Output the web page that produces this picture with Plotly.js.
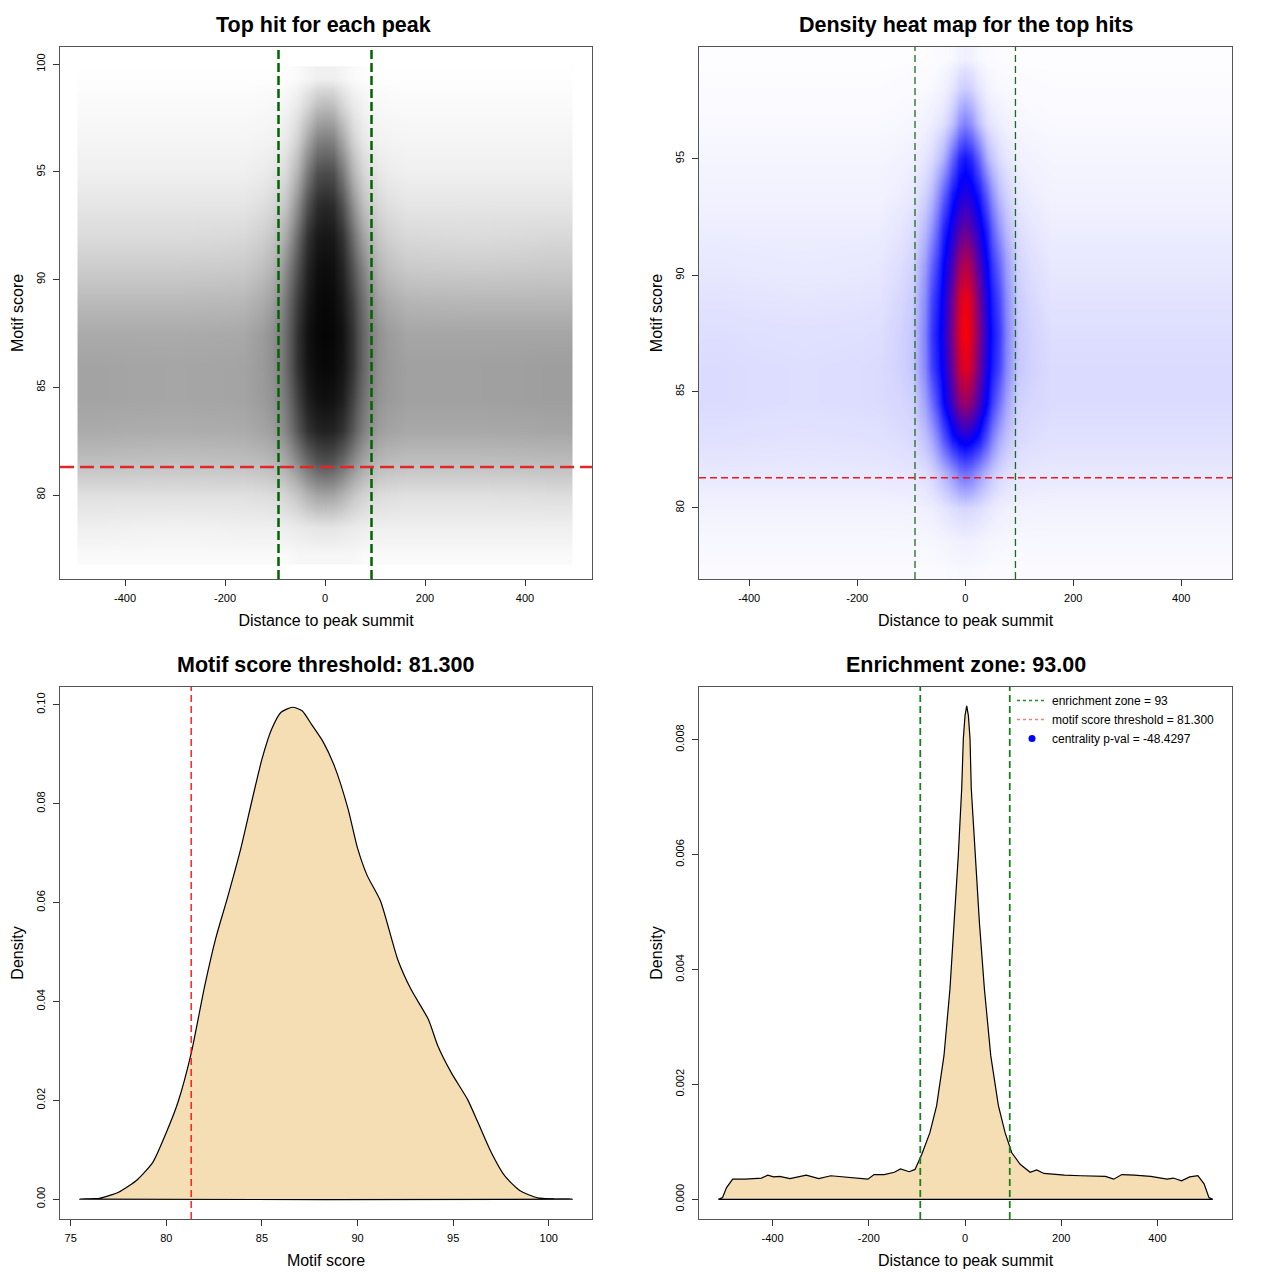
<!DOCTYPE html>
<html><head><meta charset="utf-8">
<script src="https://cdn.plot.ly/plotly-3.0.1.min.js"></script>
<style>html,body{margin:0;padding:0;background:#fff}</style>
</head><body><div id="chart" style="width:1280px;height:1280px"></div>
<script>
// ---------- values ----------
const enrichmentZone = 93;
const scoreThreshold = 81.3;
const centralityPval = -48.4297;

const distTicks = [-400, -200, 0, 200, 400];
const distTickLabels = ['-400', '-200', '0', '200', '400'];
const scoreTicksTop = [80, 85, 90, 95, 100];
const scoreTicksHeat = [80, 85, 90, 95];
const scoreTicksBottom = [75, 80, 85, 90, 95, 100];
const densTicksScore = [0, 0.02, 0.04, 0.06, 0.08, 0.10];
const densTicksDist = [0, 0.002, 0.004, 0.006, 0.008];

// Top-left: point density (share of ink) of the top-hit scatter, estimated per cell
const hitXEdges = [-495,-400,-200,-125,-88,-65,-45,-25,-8,8,25,45,65,88,125,200,400,495];
const hitYEdges = [76.8,77.75,79.25,80.75,82.25,83.75,85.25,86.75,88.25,89.75,91.25,92.75,94.25,95.75,97.25,98.75,99.9];
const hitInk = [
 [0.02,0.02,0.02,0.02,0.02,0.03,0.03,0.03,0.03,0.03,0.03,0.03,0.02,0.02,0.02,0.02,0.02],
 [0.06,0.05,0.06,0.06,0.07,0.08,0.09,0.10,0.10,0.10,0.09,0.08,0.07,0.06,0.06,0.06,0.06],
 [0.12,0.12,0.12,0.14,0.18,0.23,0.30,0.35,0.36,0.35,0.30,0.23,0.18,0.14,0.12,0.12,0.13],
 [0.25,0.24,0.25,0.28,0.35,0.46,0.58,0.66,0.68,0.66,0.58,0.46,0.35,0.28,0.25,0.25,0.26],
 [0.33,0.32,0.33,0.38,0.50,0.66,0.80,0.86,0.87,0.86,0.80,0.66,0.50,0.38,0.34,0.34,0.35],
 [0.36,0.35,0.36,0.42,0.56,0.74,0.88,0.93,0.94,0.93,0.88,0.74,0.56,0.42,0.37,0.37,0.38],
 [0.36,0.35,0.36,0.43,0.60,0.80,0.92,0.96,0.97,0.96,0.92,0.80,0.60,0.43,0.37,0.37,0.38],
 [0.33,0.33,0.34,0.43,0.60,0.80,0.93,0.97,0.98,0.97,0.93,0.80,0.60,0.43,0.35,0.35,0.35],
 [0.27,0.27,0.28,0.37,0.56,0.76,0.90,0.96,0.97,0.96,0.90,0.76,0.56,0.37,0.29,0.28,0.28],
 [0.20,0.20,0.21,0.29,0.48,0.68,0.86,0.94,0.95,0.94,0.86,0.68,0.48,0.29,0.21,0.20,0.21],
 [0.14,0.14,0.15,0.22,0.36,0.58,0.80,0.90,0.91,0.90,0.80,0.58,0.36,0.22,0.15,0.14,0.15],
 [0.10,0.10,0.10,0.15,0.25,0.44,0.68,0.82,0.84,0.82,0.68,0.44,0.25,0.15,0.10,0.10,0.10],
 [0.06,0.06,0.06,0.09,0.16,0.30,0.52,0.68,0.70,0.68,0.52,0.30,0.16,0.09,0.06,0.06,0.06],
 [0.04,0.04,0.04,0.05,0.09,0.18,0.34,0.48,0.50,0.48,0.34,0.18,0.09,0.05,0.04,0.04,0.04],
 [0.02,0.02,0.02,0.03,0.05,0.09,0.17,0.26,0.28,0.26,0.17,0.09,0.05,0.03,0.02,0.02,0.02],
 [0.005,0.005,0.005,0.005,0.01,0.02,0.04,0.06,0.06,0.06,0.04,0.02,0.01,0.005,0.005,0.005,0.005]
];

// Top-right: 2D density of the top hits (0 = white, 0.5 = blue, 1 = red)
const heatXEdges = [-493,-400,-200,-120,-75,-50,-32,-18,-6,6,18,32,50,75,120,200,400,494];
const heatYEdges = [76.95,77.75,79.25,80.75,82.25,83.75,85.25,86.75,88.25,89.75,91.25,92.75,94.25,95.75,97.25,98.75,99.8];
const heatDensity = [
 [0.008,0.008,0.008,0.008,0.008,0.01,0.012,0.013,0.014,0.013,0.012,0.01,0.008,0.008,0.008,0.008,0.008],
 [0.015,0.015,0.015,0.015,0.017,0.02,0.024,0.027,0.028,0.027,0.024,0.02,0.017,0.015,0.015,0.015,0.015],
 [0.025,0.025,0.025,0.027,0.035,0.05,0.065,0.075,0.08,0.075,0.065,0.05,0.035,0.027,0.025,0.025,0.025],
 [0.045,0.045,0.045,0.05,0.08,0.14,0.20,0.26,0.28,0.26,0.20,0.14,0.08,0.05,0.045,0.045,0.045],
 [0.06,0.055,0.06,0.075,0.17,0.33,0.46,0.52,0.55,0.52,0.46,0.33,0.17,0.075,0.06,0.06,0.06],
 [0.07,0.065,0.07,0.09,0.28,0.48,0.63,0.76,0.80,0.76,0.63,0.48,0.28,0.09,0.07,0.07,0.07],
 [0.07,0.065,0.07,0.11,0.37,0.53,0.71,0.88,0.95,0.88,0.71,0.53,0.37,0.11,0.07,0.07,0.07],
 [0.065,0.06,0.065,0.11,0.39,0.55,0.75,0.92,1.00,0.92,0.75,0.55,0.39,0.11,0.065,0.065,0.065],
 [0.055,0.05,0.055,0.10,0.36,0.53,0.72,0.90,0.97,0.90,0.72,0.53,0.36,0.10,0.055,0.055,0.055],
 [0.045,0.04,0.045,0.085,0.30,0.49,0.64,0.80,0.85,0.80,0.64,0.49,0.30,0.085,0.045,0.045,0.045],
 [0.035,0.035,0.035,0.065,0.21,0.42,0.55,0.65,0.70,0.65,0.55,0.42,0.21,0.065,0.035,0.035,0.035],
 [0.025,0.025,0.025,0.045,0.13,0.30,0.45,0.53,0.56,0.53,0.45,0.30,0.13,0.045,0.025,0.025,0.025],
 [0.02,0.02,0.02,0.03,0.07,0.15,0.30,0.42,0.46,0.42,0.30,0.15,0.07,0.03,0.02,0.02,0.02],
 [0.012,0.012,0.012,0.018,0.035,0.06,0.12,0.21,0.25,0.21,0.12,0.06,0.035,0.018,0.012,0.012,0.012],
 [0.007,0.007,0.007,0.01,0.015,0.025,0.05,0.085,0.10,0.085,0.05,0.025,0.015,0.01,0.007,0.007,0.007],
 [0.003,0.003,0.003,0.004,0.006,0.01,0.015,0.025,0.03,0.025,0.015,0.01,0.006,0.004,0.003,0.003,0.003]
];

// Bottom-left: density of motif scores
const scoreX = [75.47,76.5,77.5,78.5,79.3,80,80.6,81.3,82,82.6,83.2,83.9,84.5,85,85.5,86,86.6,87.1,87.6,88.2,88.8,89.5,90,90.5,91.2,92.1,92.8,93.7,94.2,94.9,95.75,96.3,97,97.7,98.5,99.4,100.3,101.23];
const scoreDensity = [0,0.0002,0.0014,0.004,0.0075,0.0135,0.0195,0.0295,0.043,0.053,0.061,0.071,0.081,0.089,0.095,0.0985,0.0995,0.0988,0.096,0.0925,0.0875,0.079,0.071,0.0655,0.0603,0.0485,0.0424,0.0364,0.031,0.0256,0.0202,0.0155,0.0094,0.0047,0.0017,0.0003,0.00005,0];

// Bottom-right: density of distances to peak summit
const distX = [-512.8,-504,-496,-483,-457,-423,-410,-398,-385,-364,-330,-304,-279,-253,-227,-202,-189,-168,-147,-134,-116,-104,-90,-73,-59,-43.75,-31.3,-22.2,-14,-6.9,-3.5,0,3.5,7,10.4,13,20.8,29.9,40.3,53.5,69.4,83.3,97.2,114.6,135.4,149,164,207,241,292,309,326,352,386,420,433,450,467,484,497,507,515];
const distDensity = [0,0.00003,0.0002,0.00035,0.00035,0.00037,0.00042,0.00039,0.0004,0.00036,0.00042,0.00036,0.00041,0.00039,0.00037,0.00035,0.00043,0.00043,0.00047,0.00053,0.00048,0.00052,0.00078,0.00116,0.00163,0.0025,0.00366,0.00482,0.00598,0.00715,0.00802,0.00842,0.00859,0.00842,0.00802,0.00715,0.00598,0.00482,0.00366,0.0025,0.00163,0.00116,0.00081,0.00061,0.00047,0.00051,0.00045,0.00042,0.00041,0.0004,0.00035,0.00043,0.00042,0.0004,0.00035,0.00037,0.00032,0.00039,0.00041,0.00027,0.00003,0];

// ---------- drawing ----------
const FONT = 'Liberation Sans, Arial, Helvetica, sans-serif';
const W = 1280, H = 1280;
const px = v => v / W;
const py = v => 1 - v / H;

const traces = [
  {type:'heatmap', x:hitXEdges, y:hitYEdges, z:hitInk, zmin:0, zmax:1, zsmooth:'best',
   colorscale:[[0,'#ffffff'],[1,'#000000']], showscale:false, hoverinfo:'skip', xaxis:'x', yaxis:'y'},
  {type:'heatmap', x:heatXEdges, y:heatYEdges, z:heatDensity, zmin:0, zmax:1, zsmooth:'best',
   colorscale:[[0,'#ffffff'],[0.5,'#0000ff'],[1,'#ff0000']], showscale:false, hoverinfo:'skip', xaxis:'x2', yaxis:'y2'},
  {type:'scatter', mode:'lines', x:scoreX.concat([scoreX[0]]), y:scoreDensity.concat([scoreDensity[0]]),
   fill:'toself', fillcolor:'#f5deb3', line:{color:'#000', width:1.2, shape:'spline', smoothing:0.6},
   showlegend:false, hoverinfo:'skip', xaxis:'x3', yaxis:'y3'},
  {type:'scatter', mode:'lines', x:distX.concat([distX[0]]), y:distDensity.concat([distDensity[0]]),
   fill:'toself', fillcolor:'#f5deb3', line:{color:'#000', width:1.2},
   showlegend:false, hoverinfo:'skip', xaxis:'x4', yaxis:'y4'},
  {type:'scatter', mode:'lines', x:[null], y:[null], name:'enrichment zone = ' + enrichmentZone,
   line:{color:'#228b22', width:1.3, dash:'dot'}, xaxis:'x4', yaxis:'y4'},
  {type:'scatter', mode:'lines', x:[null], y:[null], name:'motif score threshold = ' + scoreThreshold.toFixed(3),
   line:{color:'#f08080', width:1.3, dash:'dot'}, xaxis:'x4', yaxis:'y4'},
  {type:'scatter', mode:'markers', x:[null], y:[null], name:'centrality p-val = ' + centralityPval,
   marker:{color:'#0000ff', size:7}, xaxis:'x4', yaxis:'y4'}
];

function axisBase(extra) {
  return Object.assign({
    showline:true, mirror:true, linecolor:'#555', linewidth:1,
    ticks:'outside', ticklen:6, tickcolor:'#333', tickwidth:1,
    showgrid:false, zeroline:false, fixedrange:true,
    tickfont:{family:FONT, size:11, color:'#000'}
  }, extra);
}
const xTitle = t => ({text:t, font:{family:FONT, size:16, color:'#000'}, standoff:11});
const yTitle = t => ({text:t, font:{family:FONT, size:16, color:'#000'}, standoff:6});

const dTop = [py(579), py(47)], dBot = [py(1219), py(687)];
const dLeft = [px(60), px(592)], dRight = [px(699), px(1232)];

const layout = {
  width:W, height:H, margin:{l:0, r:0, t:0, b:0},
  paper_bgcolor:'#fff', plot_bgcolor:'#fff',
  font:{family:FONT, color:'#000'},
  xaxis: axisBase({domain:dLeft, anchor:'y', range:[-530,534], tickvals:distTicks, ticktext:distTickLabels, ticklabelstandoff:3, title:xTitle('Distance to peak summit')}),
  yaxis: axisBase({domain:dTop, anchor:'x', range:[76.1,100.8], tickvals:scoreTicksTop, tickangle:-90, ticklabelstandoff:4, title:yTitle('Motif score')}),
  xaxis2: axisBase({domain:dRight, anchor:'y2', range:[-493,494], tickvals:distTicks, ticktext:distTickLabels, ticklabelstandoff:3, title:xTitle('Distance to peak summit')}),
  yaxis2: axisBase({domain:dTop, anchor:'x2', range:[76.95,99.8], tickvals:scoreTicksHeat, tickangle:-90, ticklabelstandoff:4, title:yTitle('Motif score')}),
  xaxis3: axisBase({domain:dLeft, anchor:'y3', range:[74.44,102.26], tickvals:scoreTicksBottom, ticklabelstandoff:3, title:xTitle('Motif score')}),
  yaxis3: axisBase({domain:dBot, anchor:'x3', range:[-0.004,0.1036], tickvals:densTicksScore, tickformat:'.2f', tickangle:-90, ticklabelstandoff:4, title:yTitle('Density')}),
  xaxis4: axisBase({domain:dRight, anchor:'y4', range:[-553,555], tickvals:distTicks, ticktext:distTickLabels, ticklabelstandoff:3, title:xTitle('Distance to peak summit')}),
  yaxis4: axisBase({domain:dBot, anchor:'x4', range:[-0.000343,0.008918], tickvals:densTicksDist, tickformat:'.3f', tickangle:-90, ticklabelstandoff:4, title:yTitle('Density')}),
  showlegend:true,
  legend:{x:px(1012), y:py(686), xanchor:'left', yanchor:'top', bgcolor:'rgba(0,0,0,0)', borderwidth:0,
          font:{family:FONT, size:12, color:'#000'}, tracegroupgap:0, itemwidth:30},
  shapes:[],
  annotations:[]
};

const titles = [
  ['Top hit for each peak', 323, 25],
  ['Density heat map for the top hits', 966, 25],
  ['Motif score threshold: ' + scoreThreshold.toFixed(3), 326, 665],
  ['Enrichment zone: ' + enrichmentZone.toFixed(2), 966, 665]
];
titles.forEach(([t, x, y]) => layout.annotations.push({
  text:t, xref:'paper', yref:'paper', x:px(x), y:py(y), xanchor:'center', yanchor:'middle',
  showarrow:false, font:{family:FONT, size:21.5, color:'#000', weight:'bold'}
}));

function vline(ax, val, color, width, dash) {
  layout.shapes.push({type:'line', xref:ax.x, yref:ax.y + ' domain', x0:val, x1:val, y0:0, y1:1,
    line:{color:color, width:width, dash:dash}});
}
function hline(ax, val, color, width, dash) {
  layout.shapes.push({type:'line', xref:ax.x + ' domain', yref:ax.y, x0:0, x1:1, y0:val, y1:val,
    line:{color:color, width:width, dash:dash}});
}
const A1 = {x:'x', y:'y'}, A2 = {x:'x2', y:'y2'}, A3 = {x:'x3', y:'y3'}, A4 = {x:'x4', y:'y4'};
vline(A1, -enrichmentZone, '#006400', 2.5, '9px,4px');
vline(A1, enrichmentZone, '#006400', 2.5, '9px,4px');
hline(A1, scoreThreshold, '#e0282a', 2.5, '14px,6px');
vline(A2, -enrichmentZone, '#1a6e1a', 1.3, '7px,4px');
vline(A2, enrichmentZone, '#1a6e1a', 1.3, '7px,4px');
hline(A2, scoreThreshold, '#f01818', 1.4, '7px,4px');
vline(A3, scoreThreshold, '#ff0000', 1.3, '7px,4px');
vline(A4, -enrichmentZone, '#1a801a', 1.8, '7px,4px');
vline(A4, enrichmentZone, '#1a801a', 1.8, '7px,4px');

Plotly.newPlot('chart', traces, layout, {staticPlot:true, displayModeBar:false});
</script>
</body></html>
